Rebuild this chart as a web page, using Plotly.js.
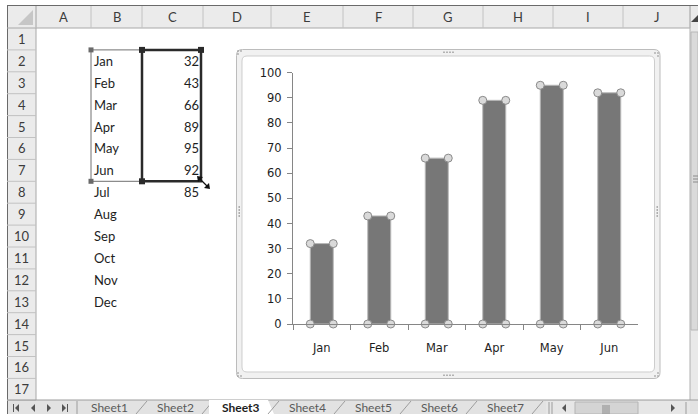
<!DOCTYPE html>
<html><head><meta charset="utf-8">
<script src="https://cdn.plot.ly/plotly-3.0.1.min.js"></script>
<style>html,body{margin:0;padding:0;background:#fff;overflow:hidden}#chart{width:698px;height:414px}</style>
</head><body><div id="chart"></div>
<script>
// ---------- data ----------
const months = ['Jan','Feb','Mar','Apr','May','Jun','Jul','Aug','Sep','Oct','Nov','Dec'];
const cellValues = [32,43,66,89,95,92,85];
const chartCategories = ['Jan','Feb','Mar','Apr','May','Jun'];
const chartValues = [32,43,66,89,95,92];
const yTickValues = [0,10,20,30,40,50,60,70,80,90,100];
const columnLetters = ['A','B','C','D','E','F','G','H','I','J'];
const rowNumbers = [1,2,3,4,5,6,7,8,9,10,11,12,13,14,15,16,17];
const sheetNames = ['Sheet1','Sheet2','Sheet3','Sheet4','Sheet5','Sheet6','Sheet7'];
const activeSheet = 'Sheet3';

// ---------- geometry (pixels) ----------
const W = 698, H = 414;
const X = p => p / W;
const Y = p => 1 - p / H;
const colEdges = [36,91,142,203,271,343,413,483,553,623,690];
const rowTop = 28, rowH = 21.9, headTop = 6;
const rowCenter = r => rowTop + (r - 0.5) * rowH;
const rowEdge = r => rowTop + r * rowH;

const shapes = [];
const ann = [];
function rect(x0,y0,x1,y1,fill,line,lw,layer){
  shapes.push({type:'rect',xref:'paper',yref:'paper',x0:X(x0),x1:X(x1),y0:Y(y1),y1:Y(y0),
    fillcolor:fill||'rgba(0,0,0,0)',line:{color:line||'rgba(0,0,0,0)',width:lw===undefined?1:lw},layer:layer||'above'});
}
function line(x0,y0,x1,y1,color,lw,layer){
  shapes.push({type:'line',xref:'paper',yref:'paper',x0:X(x0),x1:X(x1),y0:Y(y0),y1:Y(y1),
    line:{color:color,width:lw||1},layer:layer||'above'});
}
function path(pts,fill,lcol,lw,layer){
  let d = 'M' + pts.map(p => X(p[0]).toFixed(5)+','+Y(p[1]).toFixed(5)).join(' L') + ' Z';
  shapes.push({type:'path',xref:'paper',yref:'paper',path:d,fillcolor:fill,line:{color:lcol||'rgba(0,0,0,0)',width:lw||0},layer:layer||'above'});
}
function rrect(x0,y0,x1,y1,r,fill,lcol,lw,layer){
  const P=(x,y)=>X(x).toFixed(5)+','+Y(y).toFixed(5);
  const d='M'+P(x0+r,y0)+' L'+P(x1-r,y0)+' Q'+P(x1,y0)+' '+P(x1,y0+r)+' L'+P(x1,y1-r)+' Q'+P(x1,y1)+' '+P(x1-r,y1)+
    ' L'+P(x0+r,y1)+' Q'+P(x0,y1)+' '+P(x0,y1-r)+' L'+P(x0,y0+r)+' Q'+P(x0,y0)+' '+P(x0+r,y0)+' Z';
  shapes.push({type:'path',xref:'paper',yref:'paper',path:d,fillcolor:fill,line:{color:lcol,width:lw},layer:layer||'below'});
}
function text(t,x,y,xa,opts){
  opts = opts || {};
  ann.push({text:t,xref:'paper',yref:'paper',x:X(x),y:Y(y),xanchor:xa||'center',yanchor:'middle',showarrow:false,
    borderpad:0,font:{family:opts.family||'Lato, "Open Sans", sans-serif',size:opts.size||13,color:opts.color||'#1e1e1e'}});
}

// ---------- spreadsheet frame ----------
rect(7,headTop,690,rowTop,'#ebebeb','rgba(0,0,0,0)',0,'below');
rect(7,rowTop,36,400,'#ebebeb','rgba(0,0,0,0)',0,'below');
line(7,5.5,698,5.5,'#6a6a6a',1);
line(7.5,5,7.5,414,'#6a6a6a',1);
line(7,rowTop,690,rowTop,'#a8a8a8',1);
line(36,headTop,36,400,'#a8a8a8',1);
colEdges.forEach(e => line(e,headTop,e,rowTop,'#c2c2c2',1));
for (let r=1; r<=17; r++) line(7,rowEdge(r),36,rowEdge(r),'#c2c2c2',1);
path([[33,10],[33,25],[18,25]],'#c6c6c6');
columnLetters.forEach((c,i) => text(c,(colEdges[i]+colEdges[i+1])/2,17,'center',{color:'#3c3c3c'}));
rowNumbers.forEach(r => text(String(r),21.5,rowCenter(r),'center',{color:'#3c3c3c'}));
months.forEach((m,i) => text(m,93,rowCenter(i+2),'left'));
cellValues.forEach((v,i) => text(String(v),200,rowCenter(i+2),'right'));

// data range highlight
const selTop = rowEdge(1), selBot = rowEdge(7);
rect(91,selTop,142,selBot,'rgba(0,0,0,0)','#707070',1);
rect(142,selTop,201,selBot,'rgba(0,0,0,0)','#2a2a2a',2.5);
[[91,selTop],[91,selBot]].forEach(p => rect(p[0]-2.5,p[1]-2.5,p[0]+2.5,p[1]+2.5,'#6a6a6a','#6a6a6a',0));
[[142,selTop],[201,selTop],[142,selBot]].forEach(p => rect(p[0]-3,p[1]-3,p[0]+3,p[1]+3,'#2a2a2a','#2a2a2a',0));
line(199,178,208,187,'#111',1.2);
path([[197,176],[203,177],[198,182]],'#111');
path([[210,189],[204,188],[209,183]],'#111');

// vertical scrollbar
rect(690,headTop,698,400,'#e9e9e9','rgba(0,0,0,0)',0,'below');
line(690,headTop,690,400,'#b0b0b0',1);
path([[691,22],[698,22],[698,15]],'#444');
rect(691,32,698,330,'#dadada','#b8b8b8',1,'below');
[176,179,182].forEach(y => line(693,y,698,y,'#8a8a8a',1));

// sheet tab bar
rect(7,400,698,414,'#e2e2e2','rgba(0,0,0,0)',0,'below');
line(7,400,698,400,'#9c9c9c',1);
path([[13,404],[13,412],[14,412],[14,404]],'#555');
path([[19,404],[15,408],[19,412]],'#555');
path([[35,404],[31,408],[35,412]],'#555');
path([[47,404],[51,408],[47,412]],'#555');
path([[62,404],[66,408],[62,412]],'#555');
path([[67,404],[67,412],[68,412],[68,404]],'#555');
line(77,401,77,414,'#9c9c9c',1);
const tabW = 66, tab0 = 109;
sheetNames.forEach((s,i) => {
  const cx = tab0 + i*tabW;
  const active = s === activeSheet;
  if (active) path([[cx-32,400],[cx+27,400],[cx+33,414],[cx-32,414]],'#ffffff');
  line(cx+27,414,cx+38,401,'#9c9c9c',1);
  text(active ? '<b>'+s+'</b>' : s, cx, 407, 'center', {color: active ? '#1e1e1e' : '#5a5a5a', size:12});
});
// horizontal scrollbar
rect(546,401,690,414,'#e6e6e6','rgba(0,0,0,0)',0,'above');
line(549,402,549,414,'#9c9c9c',1);
line(552,402,552,414,'#9c9c9c',1);
path([[566,404],[562,408],[566,412]],'#555');
rect(575,402,638,414,'#d4d4d4','#b4b4b4',1);
[603,605,607,609].forEach(x => line(x,405,x,414,'#8c8c8c',1));
path([[671,404],[675,408],[671,412]],'#555');
line(686,402,686,414,'#9c9c9c',1);

// ---------- chart frame ----------
rrect(236.5,49.5,660,378.5,6,'#f1f1f1','#bcbcbc',1);
rrect(242,56,654.5,372,5,'#ffffff','#cdcdcd',1);
[444,447,450,453].forEach(x => { rect(x-0.7,51.5,x+0.7,53,'#999','#999',0); rect(x-0.7,374.5,x+0.7,376,'#999','#999',0); });
[207,210,213,216].forEach(y => { rect(238.5,y-0.7,240,y+0.7,'#999','#999',0); rect(656.5,y-0.7,658,y+0.7,'#999','#999',0); });
[[238,51],[241,51],[238,54],[655,53],[658,53],[658,56],[238,376],[241,376],[238,373],[655,376],[658,376],[658,373]]
  .forEach(p => rect(p[0]-0.7,p[1]-0.7,p[0]+0.7,p[1]+0.7,'#999','#999',0));

// ---------- chart traces ----------
const halfW = 0.2;
const hx = [], hy = [];
chartValues.forEach((v,i) => {
  hx.push(i-halfW, i+halfW, i-halfW, i+halfW);
  hy.push(v, v, 0, 0);
});
const traces = [
  {type:'bar', x:chartCategories, y:chartValues, width:0.4, xaxis:'x', yaxis:'y',
   marker:{color:'#777777', line:{color:'#b8b8b8', width:1}}, hoverinfo:'skip'},
  {type:'scatter', mode:'markers', x:hx, y:hy, xaxis:'x2', yaxis:'y', cliponaxis:false,
   marker:{size:8, color:'#dadada', line:{color:'#8a8a8a', width:1}}, hoverinfo:'skip'}
];
const axisFont = {family:'"DejaVu Sans", Verdana, sans-serif', size:11.5, color:'#1e1e1e'};
const xDom = [X(293), X(638)];
const layout = {
  width:W, height:H, margin:{l:0,r:0,t:0,b:0,pad:0},
  paper_bgcolor:'#ffffff', plot_bgcolor:'rgba(0,0,0,0)',
  showlegend:false, bargap:0.6,
  xaxis:{type:'category', domain:xDom, anchor:'y', range:[-0.5,5.5], tickson:'boundaries',
    ticks:'outside', ticklen:5, tickcolor:'#868686', tickwidth:1, showline:true, linecolor:'#868686', linewidth:1,
    showgrid:false, zeroline:false, tickfont:axisFont, ticklabelstandoff:13, fixedrange:true},
  xaxis2:{domain:xDom, overlaying:'x', anchor:'y', range:[-0.5,5.5], visible:false, fixedrange:true},
  yaxis:{domain:[Y(324), Y(72.7)], anchor:'x', range:[0,100], tickmode:'array', tickvals:yTickValues,
    ticks:'outside', ticklen:5, tickcolor:'#868686', tickwidth:1, showline:true, linecolor:'#868686', linewidth:1,
    showgrid:false, zeroline:false, tickfont:axisFont, ticklabelstandoff:3, fixedrange:true},
  shapes:shapes, annotations:ann
};
Plotly.newPlot('chart', traces, layout, {displayModeBar:false, staticPlot:true});
</script></body></html>
